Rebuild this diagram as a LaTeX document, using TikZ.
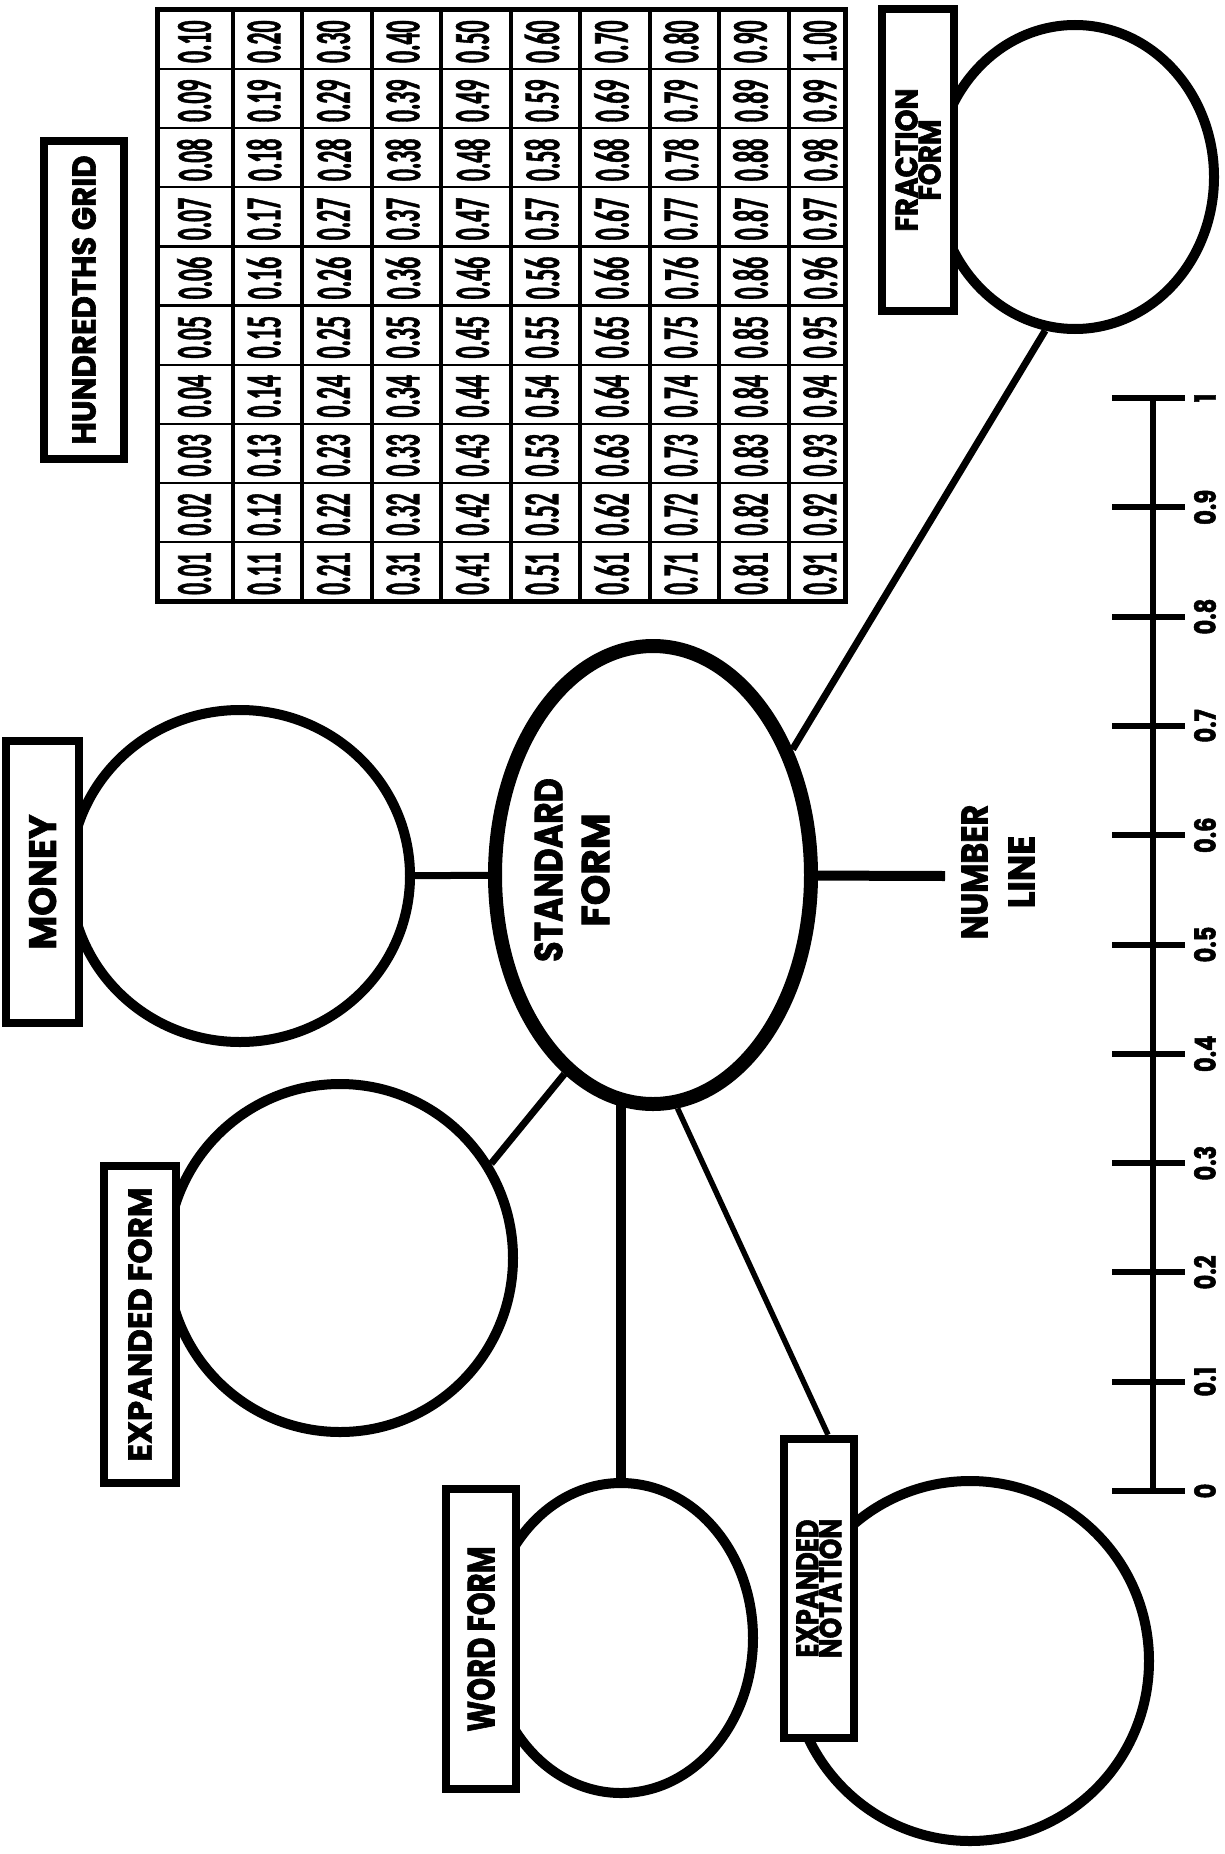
\documentclass[tikz,border=0pt]{standalone}
\usepackage{graphicx}
\usepackage{fontspec}
\usetikzlibrary{shapes.geometric,backgrounds}
\newfontfamily\heavy[BoldFeatures={FakeBold=2}]{Poppins}
\newfontfamily\gridfont[BoldFeatures={FakeBold=1.5}]{Carlito}
\newcommand{\hs}[2]{\scalebox{#1}[1]{#2}}
\tikzset{
  ring/.style={ellipse, draw, line width=10pt, fill=white, inner sep=0pt},
  labbox/.style={rectangle, draw, line width=8.5pt, fill=white, rotate=90, inner sep=0pt, align=center},
  vtext/.style={rotate=90, inner sep=0pt, align=center},
  conn/.style={line width=7pt},
  gridnum/.style={rotate=90, anchor=west, inner sep=0pt, font=\gridfont\bfseries\fontsize{50}{50}\selectfont},
  nlmark/.style={line width=6pt},
  nllabel/.style={rotate=90, inner sep=0pt, font=\heavy\bfseries\fontsize{29}{29}\selectfont}
}
\begin{document}
\begin{tikzpicture}[x=1pt,y=-1pt]
\useasboundingbox (0,0) rectangle (1225,1854);

% hundredths grid
\draw[line width=5pt] (157,10) rectangle (845,601);
\foreach \i in {1,...,9} \draw[line width=4pt] ({163.2+69.5*\i},10) -- ({163.2+69.5*\i},601);
\foreach \j in {1,...,9} \draw[line width=2.2pt] (157,{10+59.1*\j}) -- (845,{10+59.1*\j});
\foreach \i in {0,...,9} {
  \foreach \j in {0,...,9} {
    \pgfmathtruncatemacro\nn{10*\i+\j+1}
    \node[gridnum] (g\nn) at ({194.5+69.5*\i},{601-59.1*\j-6})
      {\hs{0.475}{\ifnum\nn<10 0.0\nn\else\ifnum\nn<100 0.\nn\else 1.00\fi\fi}};
  }
}

% circles
\node[ring, minimum width=278pt, minimum height=304pt] (frac) at (1075,177) {};
\node[ring, minimum width=340pt, minimum height=332pt] (money) at (240,876) {};
\node[ring, line width=14pt, minimum width=316pt, minimum height=458pt] (std) at (653,875) {};
\node[ring, minimum width=346pt, minimum height=348pt] (expf) at (340,1258) {};
\node[ring, minimum width=264pt, minimum height=310pt] (word) at (621,1638) {};
\node[ring, minimum width=358pt, minimum height=360pt] (expn) at (970,1661) {};

% label boxes
\node[labbox, minimum width=318pt, minimum height=80pt,
  font=\heavy\bfseries\fontsize{33}{33}\selectfont] (hgbox) at (84,300) {\hs{0.93}{HUNDREDTHS GRID}};
\node[labbox, minimum width=302pt, minimum height=72pt,
  font=\heavy\bfseries\fontsize{31}{23}\selectfont] (fracbox) at (918,160) {\hs{0.9}{FRACTION}\\\hs{0.9}{FORM}};
\node[labbox, minimum width=282pt, minimum height=73pt,
  font=\heavy\bfseries\fontsize{38}{38}\selectfont] (moneybox) at (42.5,882) {\hs{0.97}{MONEY}};
\node[labbox, minimum width=317pt, minimum height=72pt,
  font=\heavy\bfseries\fontsize{33}{33}\selectfont] (expfbox) at (140,1324.5) {\hs{0.98}{EXPANDED FORM}};
\node[labbox, minimum width=300pt, minimum height=70pt,
  font=\heavy\bfseries\fontsize{38}{38}\selectfont] (wordbox) at (481,1639) {\hs{0.77}{WORD FORM}};
\node[labbox, minimum width=299pt, minimum height=70pt,
  font=\heavy\bfseries\fontsize{31}{22}\selectfont] (expnbox) at (819,1588.5) {\hs{0.83}{EXPANDED}\\\hs{0.85}{NOTATION}};

% free texts
\node[vtext, font=\heavy\bfseries\fontsize{39}{47}\selectfont] (stdtext) at (572,870) {\hs{0.85}{STANDARD}\\FORM};
\node[vtext, font=\heavy\bfseries\fontsize{37}{47}\selectfont] (nltext) at (998,872) {\hs{0.86}{NUMBER}\\\hs{0.95}{LINE}};

\coordinate (nlend) at (945,876);

% connectors
\begin{scope}[on background layer]
  \draw[conn] (std.center) -- (money.center);
  \draw[conn] (std.246) -- (expf.32);
  \draw[line width=10pt] (std.center -| word.north) -- (word.north);
  \draw[line width=5.5pt] (std.-84) -- ([xshift=9pt]expnbox.east);
  \draw[conn] (std.42) -- (frac.259);
  \draw[line width=10pt] (std.center) -- (nlend);
\end{scope}

% number line
\draw[nlmark] (1153,398) -- (1153,1491);
\foreach \k/\t in {0/0,1/0.1,2/0.2,3/0.3,4/0.4,5/0.5,6/0.6,7/0.7,8/0.8,9/0.9,10/1} {
  \draw[nlmark] (1112,{1491-109.3*\k}) -- (1185,{1491-109.3*\k});
  \node[nllabel] (nl\k) at (1205,{1491-109.3*\k}) {\hs{0.78}{\t}};
}
\end{tikzpicture}
\end{document}
